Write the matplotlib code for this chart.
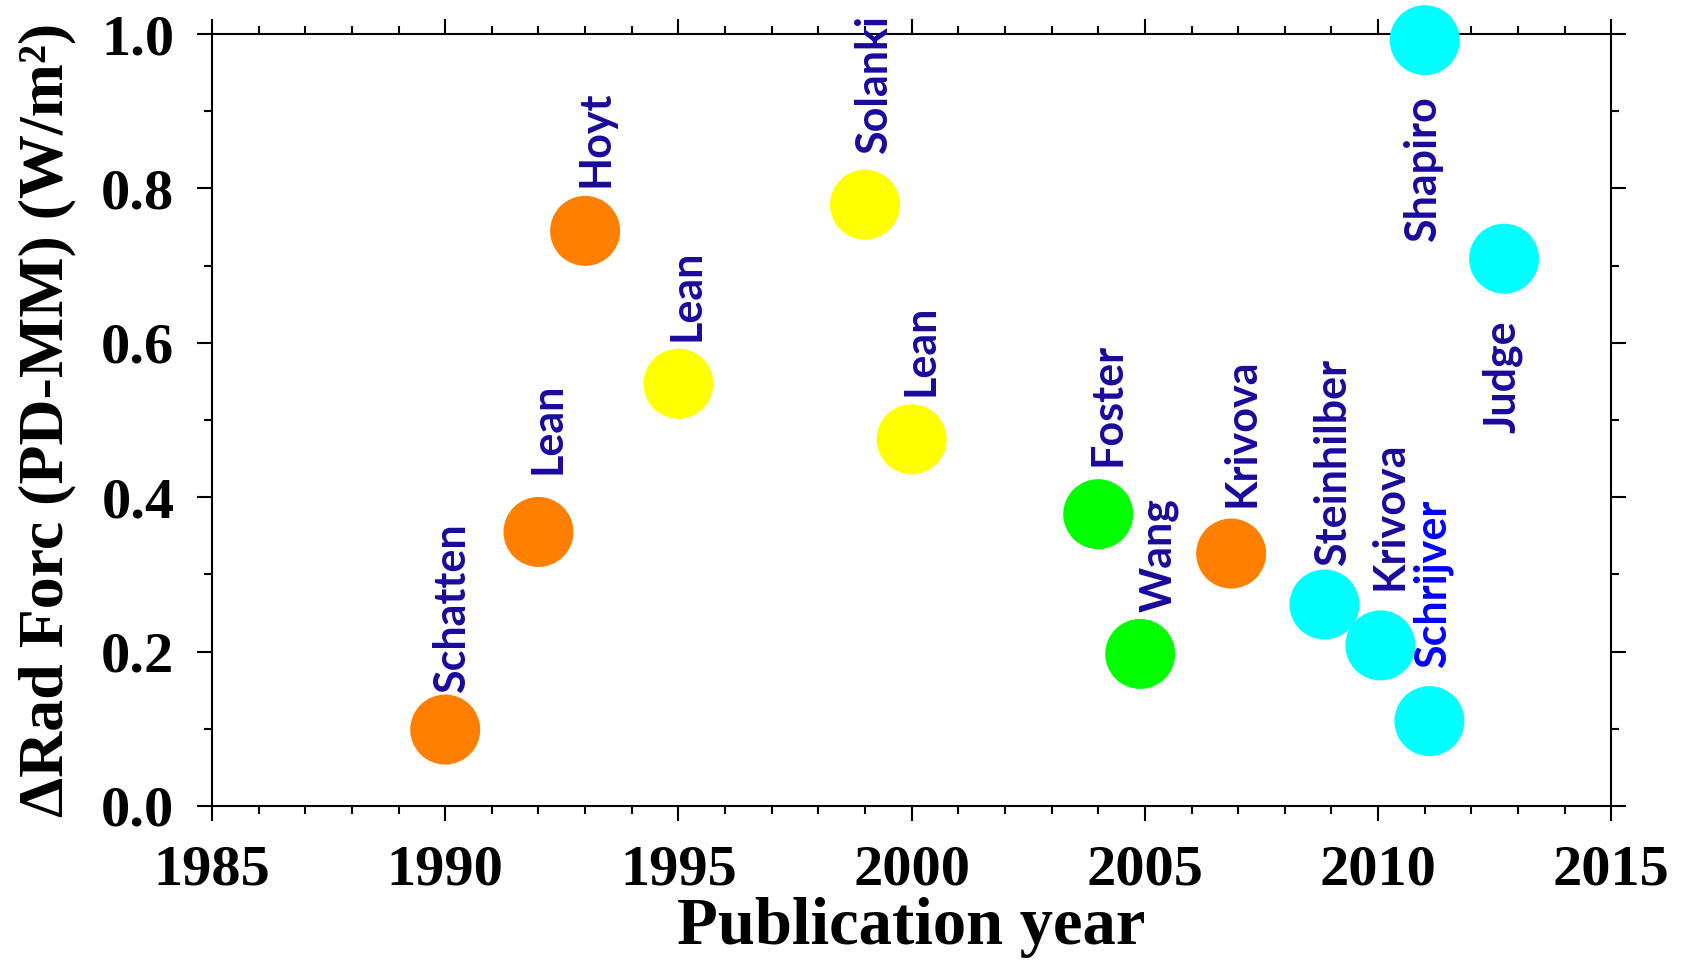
import matplotlib
matplotlib.use("Agg")
import matplotlib.pyplot as plt
from matplotlib.ticker import MultipleLocator

# publication year and forcing difference
authors = ["Schatten", "Lean", "Hoyt", "Lean", "Solanki", "Lean", "Foster",
           "Wang", "Krivova", "Steinhilber", "Krivova", "Schrijver",
           "Shapiro", "Judge"]
years = [1990.0, 1992.0, 1993.0, 1995.0, 1999.0, 2000.0, 2004.0,
         2004.9, 2006.85, 2008.85, 2010.05, 2011.1, 2011.0, 2012.7]
forcing = [0.099, 0.355, 0.745, 0.547, 0.779, 0.475, 0.378,
           0.197, 0.327, 0.261, 0.208, 0.110, 0.992, 0.709]
group = ["a", "a", "a", "b", "b", "b", "c",
         "c", "a", "d", "d", "d", "d", "d"]

group_colors = {"a": "#ff7f00", "b": "#ffff00", "c": "#00ff00", "d": "#00ffff"}
label_color = "#1a0a9c"

# label placement relative to each marker, in pixels (x right, y up)
label_dx = [7, 9, 10, 8, 9, 9, 9, 18, 10, 9, 9, 3, -2, -2]
label_dy = [37, 58, 44, 43, 51, 43, 48, 42, 47, 39, 55, 53, -56, -62]

serif = "Liberation Serif"

fig = plt.figure(figsize=(16.89, 9.61), dpi=100)
ax = fig.add_axes([0.1255, 0.1613, 0.8285, 0.8033])

for i in range(len(years)):
    ax.scatter(years[i], forcing[i], s=2540, color=group_colors[group[i]],
               edgecolors="none", zorder=3, clip_on=False)

px = 72.0 / fig.dpi
for i, name in enumerate(authors):
    below = label_dy[i] < 0
    color = "#0000ff" if name == "Schrijver" else label_color
    ax.annotate(name, (years[i], forcing[i]),
                xytext=(label_dx[i] * px, label_dy[i] * px),
                textcoords="offset points", rotation=90,
                ha="center", va="top" if below else "bottom",
                fontsize=31, fontweight="bold", family="Lato",
                color=color, zorder=4, annotation_clip=False)

ax.set_xlim(1985, 2015)
ax.set_ylim(0.0, 1.0)
ax.xaxis.set_major_locator(MultipleLocator(5))
ax.xaxis.set_minor_locator(MultipleLocator(1))
ax.yaxis.set_major_locator(MultipleLocator(0.2))
ax.yaxis.set_minor_locator(MultipleLocator(0.1))
ax.set_xticks([1985, 1990, 1995, 2000, 2005, 2010, 2015])
ax.set_xticklabels(["1985", "1990", "1995", "2000", "2005", "2010", "2015"])
ax.set_yticklabels(["%.1f" % v for v in ax.get_yticks()])

ax.tick_params(which="both", direction="out", top=True, right=True,
               width=1.5, colors="black")
ax.tick_params(which="major", length=11)
ax.tick_params(which="minor", length=6)
ax.tick_params(axis="x", which="major", pad=17)
ax.tick_params(axis="y", which="major", pad=16)
for lab in ax.get_xticklabels() + ax.get_yticklabels():
    lab.set_fontfamily(serif)
    lab.set_fontweight("bold")
    lab.set_fontsize(42)
for sp in ax.spines.values():
    sp.set_linewidth(1.5)

ax.set_xlabel("Publication year", family=serif, fontweight="bold",
              fontsize=48, labelpad=0)
ax.set_ylabel("\u0394Rad Forc (PD-MM) (W/m\u00b2)", family=serif,
              fontweight="bold", fontsize=46, labelpad=18)

fig.savefig("out.png", dpi=100)
